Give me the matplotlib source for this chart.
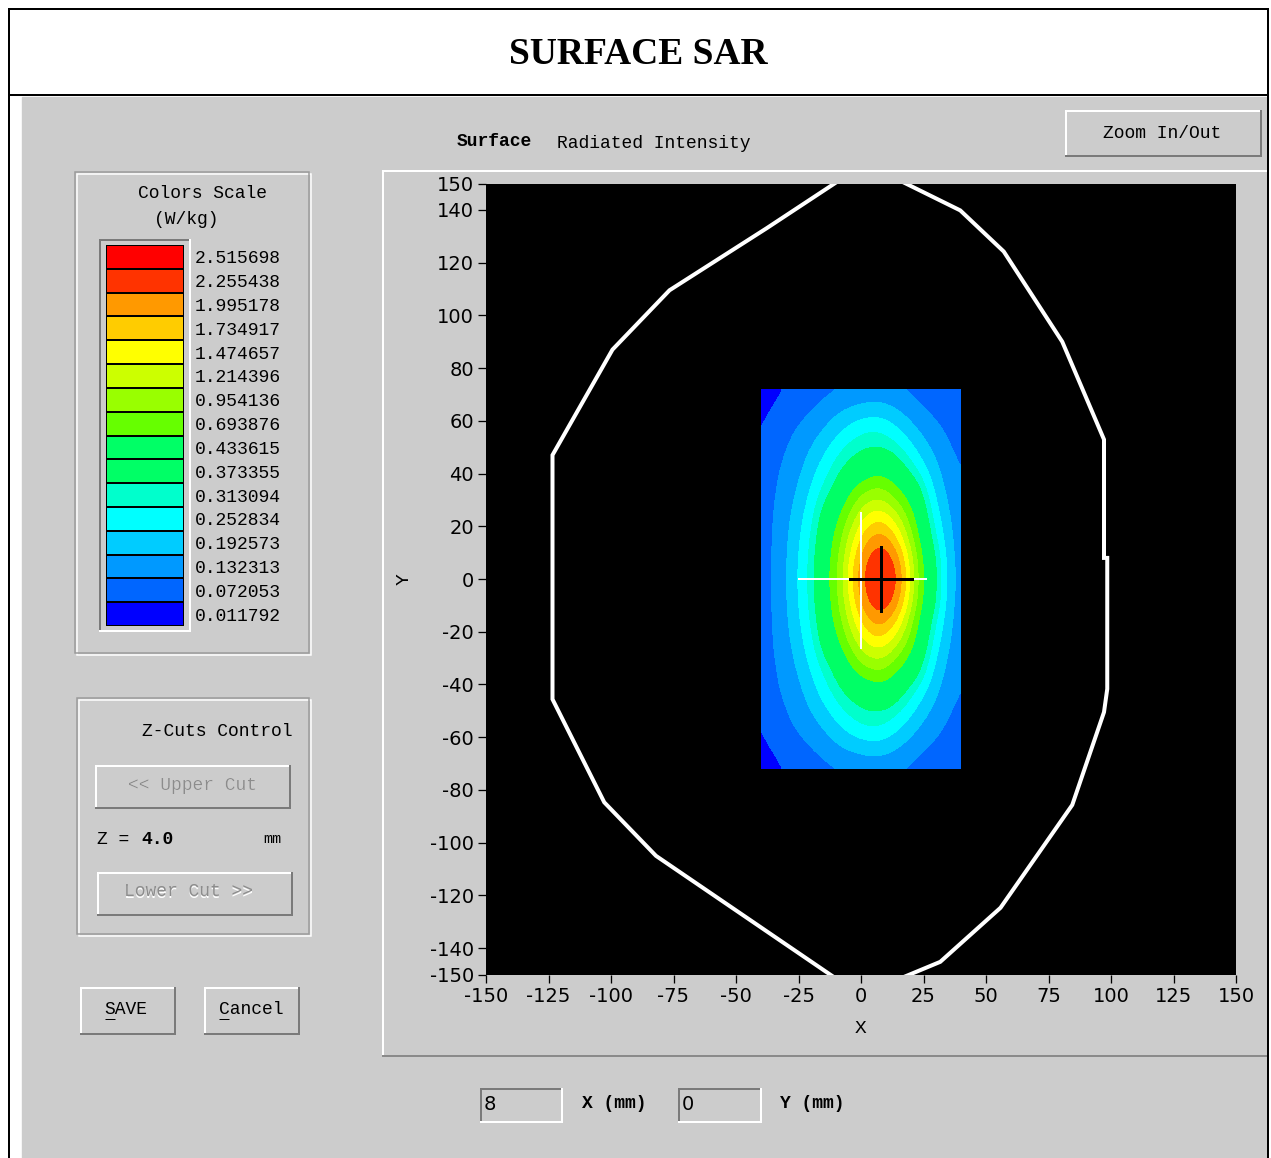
import numpy as np
import matplotlib
import matplotlib.pyplot as plt
from matplotlib.colors import ListedColormap, BoundaryNorm
from matplotlib.patches import Rectangle

matplotlib.use("Agg")
plt.rcParams["axes.unicode_minus"] = False

W, H = 1271, 1158
GRAY = "#cccccc"
MONO = ["Liberation Mono", "DejaVu Sans Mono"]
NARROW = ["Liberation Sans Narrow", "DejaVu Sans"]

# colour scale (W/kg), bottom to top
scale_values = [0.011792, 0.072053, 0.132313, 0.192573, 0.252834, 0.313094,
                0.373355, 0.433615, 0.693876, 0.954136, 1.214396, 1.474657,
                1.734917, 1.995178, 2.255438, 2.515698]
scale_colors = ["#0000ff", "#0066ff", "#0099ff", "#00ccff", "#00ffff", "#00ffcc",
                "#00ff66", "#00ff66", "#66ff00", "#99ff00", "#ccff00", "#ffff00",
                "#ffcc00", "#ff9900", "#ff3300", "#ff0000"]

# surface SAR grid (W/kg): columns x = -40..40 mm, rows y = -72..72 mm (step 8)
sar_x = [-40, -32, -24, -16, -8, 0, 8, 16, 24, 32, 40]
sar_y = [-72, -64, -56, -48, -40, -32, -24, -16, -8, 0, 8, 16, 24, 32, 40, 48, 56, 64, 72]
sar = [
    [0.050, 0.068, 0.089, 0.111, 0.130, 0.142, 0.147, 0.130, 0.110, 0.091, 0.072],
    [0.060, 0.085, 0.114, 0.148, 0.190, 0.217, 0.228, 0.187, 0.138, 0.111, 0.086],
    [0.068, 0.107, 0.147, 0.188, 0.253, 0.313, 0.322, 0.256, 0.185, 0.138, 0.100],
    [0.080, 0.124, 0.168, 0.234, 0.322, 0.376, 0.390, 0.338, 0.234, 0.162, 0.115],
    [0.092, 0.138, 0.187, 0.283, 0.374, 0.500, 0.680, 0.414, 0.303, 0.183, 0.130],
    [0.098, 0.144, 0.212, 0.323, 0.434, 0.990, 1.200, 0.720, 0.358, 0.209, 0.133],
    [0.102, 0.150, 0.239, 0.353, 0.668, 1.425, 1.730, 1.188, 0.405, 0.240, 0.135],
    [0.099, 0.156, 0.257, 0.375, 0.863, 1.820, 2.240, 1.638, 0.460, 0.265, 0.139],
    [0.100, 0.160, 0.268, 0.391, 1.003, 2.150, 2.600, 2.100, 0.600, 0.283, 0.143],
    [0.100, 0.162, 0.273, 0.397, 1.068, 2.300, 2.650, 2.300, 0.630, 0.289, 0.147],
    [0.100, 0.160, 0.268, 0.391, 1.003, 2.150, 2.600, 2.100, 0.600, 0.283, 0.143],
    [0.099, 0.156, 0.257, 0.375, 0.863, 1.820, 2.240, 1.638, 0.460, 0.265, 0.139],
    [0.102, 0.150, 0.239, 0.353, 0.668, 1.425, 1.730, 1.188, 0.405, 0.240, 0.135],
    [0.098, 0.144, 0.212, 0.323, 0.434, 0.990, 1.200, 0.720, 0.358, 0.209, 0.133],
    [0.092, 0.138, 0.187, 0.283, 0.374, 0.500, 0.680, 0.414, 0.303, 0.183, 0.130],
    [0.080, 0.124, 0.168, 0.234, 0.322, 0.376, 0.390, 0.338, 0.234, 0.162, 0.115],
    [0.068, 0.107, 0.147, 0.188, 0.253, 0.313, 0.322, 0.256, 0.185, 0.138, 0.100],
    [0.060, 0.085, 0.114, 0.148, 0.190, 0.217, 0.228, 0.187, 0.138, 0.111, 0.086],
    [0.050, 0.068, 0.089, 0.111, 0.130, 0.142, 0.147, 0.130, 0.110, 0.091, 0.072],
]

# phantom outline (mm)
outline_x = [-1, -37.8, -76.6, -99.4, -123.4, -123.4, -102.7, -82.0, -3.1, 4.3,
             31.7, 55.8, 84.5, 97.2, 98.5, 98.5, 97.2, 97.2, 80.5, 57.1, 39.7, 5.1, -1]
outline_y = [156, 133, 109.5, 87, 47, -45.6, -84.7, -105, -156, -156,
             -145.2, -124.7, -85.7, -50.5, -41.7, 8, 8, 52.9, 90, 124.2, 139.8, 156, 156]

cursor_x, cursor_y = 0, 0
peak_x, peak_y = 8, 0

xticks = [-150, -125, -100, -75, -50, -25, 0, 25, 50, 75, 100, 125, 150]
yticks = [-150, -140, -120, -100, -80, -60, -40, -20, 0, 20, 40, 60, 80, 100, 120, 140, 150]


def pt(p):
    return p * 0.72


fig = plt.figure(figsize=(W / 100, H / 100), dpi=100)
bg = fig.add_axes([0, 0, 1, 1])
bg.set_xlim(0, W)
bg.set_ylim(H, 0)
bg.axis("off")


def line(xs, ys, c, lw=1):
    bg.plot(xs, ys, color=c, lw=pt(lw), solid_capstyle="butt")


def raised(x0, y0, x1, y1):
    bg.add_patch(Rectangle((x0, y0), x1 - x0, y1 - y0, color=GRAY))
    line([x0, x1], [y0 + 1, y0 + 1], "white", 2)
    line([x0 + 1, x0 + 1], [y0, y1], "white", 2)
    line([x0, x1], [y1 - 1, y1 - 1], "#7a7a7a", 2)
    line([x1 - 1, x1 - 1], [y0, y1], "#7a7a7a", 2)


def sunken(x0, y0, x1, y1):
    line([x0, x1], [y0 + 1, y0 + 1], "#7a7a7a", 2)
    line([x0 + 1, x0 + 1], [y0, y1], "#7a7a7a", 2)
    line([x0, x1], [y1 - 1, y1 - 1], "white", 2)
    line([x1 - 1, x1 - 1], [y0, y1], "white", 2)


def etched(x0, y0, x1, y1):
    bg.add_patch(Rectangle((x0 + 2, y0 + 2), x1 - x0 - 2, y1 - y0 - 2,
                           fill=False, ec="white", lw=pt(1.5)))
    bg.add_patch(Rectangle((x0, y0), x1 - x0 - 2, y1 - y0 - 2,
                           fill=False, ec="#9a9a9a", lw=pt(1.5)))


def label(x, y, s, ha="left", size=13, weight="normal", color="black", family=MONO):
    bg.text(x, y, s, ha=ha, va="center", fontsize=size, fontweight=weight,
            color=color, family=family)


def grey_label(x, y, s):
    label(x + 1, y + 1, s, ha="center", color="white")
    label(x, y, s, ha="center", color="#8c8c8c")


# page frame and title
bg.add_patch(Rectangle((22, 97), 1245, H - 97, color=GRAY))
line([8, 1269], [9, 9], "black", 2)
line([9, 9], [8, H], "black", 2)
line([1268, 1268], [8, H], "black", 2)
line([8, 1269], [95, 95], "black", 2)
label(638, 54, "SURFACE SAR", ha="center", size=27, weight="bold",
      family=["Liberation Serif", "DejaVu Serif"])

# plot panel and its captions
line([382, 1267], [171, 171], "white", 2)
line([383, 383], [170, 1057], "white", 2)
line([382, 1267], [1056, 1056], "#8a8a8a", 2)
label(457, 142, "Surface", weight="bold")
label(557, 143, "Radiated Intensity")
raised(1065, 110, 1262, 157)
label(1162, 133, "Zoom In/Out", ha="center")

# colour scale group
etched(75, 172, 311, 655)
label(202, 194, "Colors Scale", ha="center")
label(186, 220, "(W/kg)", ha="center")
sunken(99, 239, 191, 632)

# z-cuts group
etched(77, 698, 311, 936)
label(293, 732, "Z-Cuts Control", ha="right")
raised(95, 765, 291, 809)
grey_label(192, 785, "<< Upper Cut")
label(97, 839, "Z =")
label(141, 839, "4.0", weight="bold")
label(263, 839, "mm", size=11)
raised(97, 872, 293, 916)
grey_label(188, 892, "Lower Cut >>")

# buttons
raised(80, 987, 176, 1035)
label(126, 1009, "SAVE", ha="center")
line([105, 115], [1019, 1019], "black", 1)
raised(204, 987, 300, 1035)
label(251, 1009, "Cancel", ha="center")
line([219, 229], [1019, 1019], "black", 1)

# cursor position fields
sunken(480, 1088, 563, 1123)
label(484, 1105, "8", family=NARROW, size=14)
label(582, 1103, "X (mm)", weight="bold")
sunken(678, 1088, 762, 1123)
label(682, 1105, "0", family=NARROW, size=14)
label(780, 1103, "Y (mm)", weight="bold")

# colour scale bar
cb = fig.add_axes([106 / W, 1 - 626 / H, 78 / W, 381 / H])
cb.barh(range(len(scale_values)), [1] * len(scale_values), height=1.0,
        color=scale_colors, edgecolor="black", linewidth=pt(2))
cb.set_xlim(0, 1)
cb.set_ylim(-0.5, len(scale_values) - 0.5)
cb.set_xticks([])
cb.yaxis.tick_right()
cb.set_yticks(range(len(scale_values)), [f"{v:.6f}" for v in scale_values])
cb.tick_params(axis="y", length=0, pad=8, labelsize=13, labelfontfamily=MONO[0])
for s in cb.spines.values():
    s.set_visible(False)

# main SAR map
ax = fig.add_axes([486 / W, 1 - 974.5 / H, 750 / W, 791 / H])
ax.set_facecolor("black")
cmap = ListedColormap(scale_colors)
cmap.set_under("#0000ff")
norm = BoundaryNorm(scale_values + [3.0], cmap.N)
dx = (sar_x[1] - sar_x[0]) / 2
dy = (sar_y[1] - sar_y[0]) / 2
im = ax.imshow(np.array(sar), origin="lower", cmap=cmap, norm=norm,
               extent=[sar_x[0] - dx, sar_x[-1] + dx, sar_y[0] - dy, sar_y[-1] + dy],
               interpolation="bicubic", interpolation_stage="data", aspect="auto")
clip = Rectangle((sar_x[0], sar_y[0]), sar_x[-1] - sar_x[0], sar_y[-1] - sar_y[0],
                 transform=ax.transData)
im.set_clip_path(clip)

ax.plot(outline_x, outline_y, color="white", lw=pt(4), solid_joinstyle="miter")
ax.plot([cursor_x - 25, cursor_x + 26], [cursor_y, cursor_y], color="white", lw=pt(2))
ax.plot([cursor_x, cursor_x], [cursor_y - 26, cursor_y + 25], color="white", lw=pt(2))
ax.plot([peak_x - 12.5, peak_x + 12.5], [peak_y, peak_y], color="black", lw=pt(3))
ax.plot([peak_x, peak_x], [peak_y - 12, peak_y + 12], color="black", lw=pt(3))

ax.set_xlim(-150, 150)
ax.set_ylim(-150, 150)
ax.set_xticks(xticks)
ax.set_yticks(yticks)
ax.tick_params(direction="out", length=pt(8), width=pt(1.3), pad=3,
               labelsize=14, labelfontfamily=NARROW[0])
for s in ax.spines.values():
    s.set_visible(False)
ax.set_xlabel("X", fontsize=14, family=MONO, labelpad=10)
ax.set_ylabel("Y", fontsize=14, family=MONO, labelpad=12)

fig.savefig("out.png", dpi=100)
